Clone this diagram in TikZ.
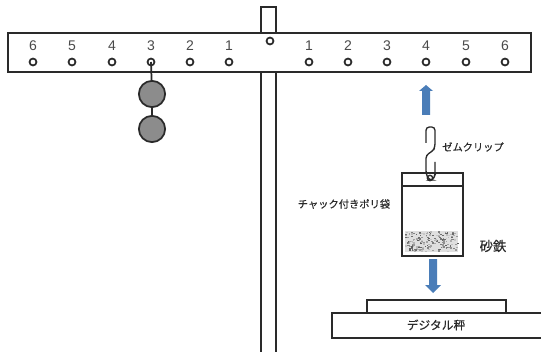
\documentclass[tikz,border=0pt]{standalone}
\usepackage{fontspec}
\setmainfont{Liberation Sans}
\newfontfamily\cjk[FakeBold=0.35]{Noto Sans CJK JP}
\usetikzlibrary{arrows.meta}
\definecolor{ink}{HTML}{2A2A2A}
\definecolor{bluearrow}{HTML}{4A7DB8}
\tikzset{
  x=0.75pt,y=-0.75pt,
  line/.style={draw=ink,line width=1.3pt},
  hole/.style={circle,draw=ink,line width=1.3pt,fill=white,minimum size=5.2pt,inner sep=0pt},
  num/.style={font=\fontsize{10.5}{11}\selectfont,text=ink!85,inner sep=0pt},
  lab/.style={font=\cjk\fontsize{7.7}{10}\selectfont,text=ink,inner sep=0pt},
  weight/.style={circle,draw=ink,line width=1.3pt,fill=black!45,minimum size=19.7pt,inner sep=0pt},
  block/.style={line,fill=white,rectangle},
  bluearr/.style={draw=none,fill=bluearrow}
}
\begin{document}
\begin{tikzpicture}
\useasboundingbox (0,0) rectangle (541,352);
% posts and beam
\path[line] (261,33) -- (261,7) -- (276,7) -- (276,33);
\path[line] (261,72) -- (261,352) (276,72) -- (276,352);
\path[line,fill=white] (8,33) rectangle (531,72);
\node[hole] (pivot) at (270,41) {};
% holes and numbers
\foreach \px/\lb/\nm in {33/6/a,72/5/b,112/4/c,151/3/d,190/2/e,229/1/f,309/1/g,348/2/h,387/3/i,426/4/j,466/5/k,505/6/l}{
  \node[hole] (h\nm) at (\px,62) {};
  \node[num] (n\nm) at (\px,46) {\lb};
}
% weights
\node[weight] (w1) at (152,94) {};
\node[weight] (w2) at (152,129) {};
\draw[line] (hd.center) -- (w1);
\draw[line] (w1) -- (w2);
% up arrow
\path[bluearr] (422,115) -- (422,91) -- (419,91) -- (426,85) -- (433,91) -- (430,91) -- (430,115) -- cycle;
% bag
\node[block,minimum width=45.7pt,minimum height=62.2pt,anchor=north west] (bag) at (401,172) {};
\draw[line] (401,186) -- (462,186);
% sand
\fill[gray!25] (405,231) rectangle (458,252);
\pgfmathsetseed{7}
\foreach \i in {1,...,170}{
  \pgfmathsetmacro{\sx}{405+rnd*52}
  \pgfmathsetmacro{\sy}{231+rnd*20}
  \pgfmathsetmacro{\sg}{20+rnd*45}
  \fill[black!\sg] (\sx,\sy) rectangle ++(1.8,1.3);
}
% clip
\node[hole,minimum size=4pt,line width=1pt] (cliphole) at (430,178) {};
\draw[draw=ink,line width=1pt,rounded corners=2.5pt]
  (426,143) -- (426,127) -- (435,127) -- (435,147) -- (433,151) -- (426,155) -- (426,174) -- (429,180) -- (433,180) -- (435,175) -- (435,162);
% down arrow
\path[bluearr] (429,259) -- (437,259) -- (437,285) -- (441,285) -- (433,293) -- (425,285) -- (429,285) -- cycle;
% scale
\node[block,minimum width=104.5pt,minimum height=9.5pt,anchor=north west] (pan) at (366,299) {};
\node[block,minimum width=165pt,minimum height=19pt,anchor=north west] (base) at (331,312) {};
\node[lab,font=\cjk\fontsize{8.8}{10}\selectfont] at (436,325) {デジタル秤};
% labels
\node[lab] (clipl) at (473,147) {ゼムクリップ};
\node[lab] (bagl) at (344,204) {チャック付きポリ袋};
\node[lab,font=\cjk\fontsize{10}{12}\selectfont] (sandl) at (493,246) {砂鉄};
\end{tikzpicture}
\end{document}
